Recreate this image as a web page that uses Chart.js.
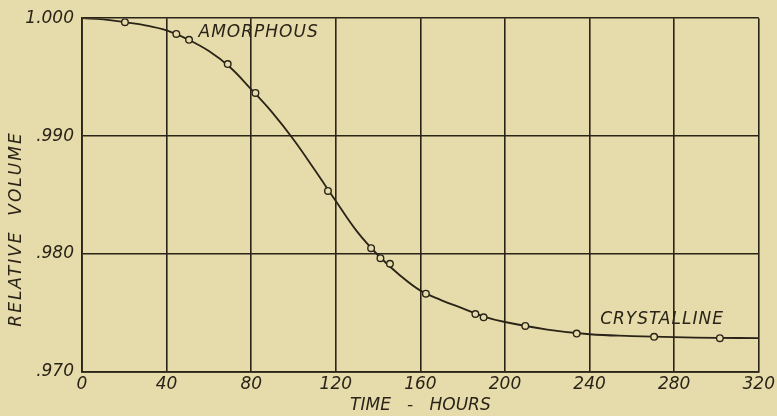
<!DOCTYPE html>
<html>
<head>
<meta charset="utf-8">
<script src="https://cdn.jsdelivr.net/npm/chart.js@4"></script>
<style>
  html, body { margin: 0; padding: 0; background: #e6dcab; }
  canvas { display: block; }
</style>
</head>
<body>
<canvas id="c" width="777" height="416"></canvas>
<script>
// Measured points (time in hours, relative volume)
const pointHours  = [20.3, 44.6, 50.6, 68.9, 82.0, 116.3, 136.7, 141.1, 145.6, 162.6, 186.0, 189.9, 209.6, 233.9, 270.5, 301.6];
const pointVolume = [0.99966, 0.99867, 0.99817, 0.99611, 0.99366, 0.98535, 0.98050, 0.97965, 0.97918, 0.97664, 0.97492, 0.97464, 0.97391, 0.97326, 0.97298, 0.97287];

// Smooth curve
const curveHours  = [0, 10, 20, 30, 40, 50, 60, 70, 80, 90, 100, 110, 120, 130, 140, 150, 160, 170, 180, 190, 200, 220, 240, 260, 280, 300, 320];
const curveVolume = [1.0000, 0.99990, 0.99966, 0.99940, 0.99896, 0.99820, 0.99721, 0.99584, 0.99397, 0.99200, 0.98972, 0.98715, 0.98450, 0.98192, 0.97990, 0.97825, 0.97690, 0.97608, 0.97540, 0.97470, 0.97424, 0.97360, 0.97320, 0.97305, 0.97295, 0.97290, 0.97287];

// Tick values
const xTicks = [0, 40, 80, 120, 160, 200, 240, 280, 320];
const yTicks = [0.970, 0.980, 0.990, 1.000];

// Text labels on the plot, anchored in data space
const notes = [
  { text: "AMORPHOUS",   x: 55.1,  y: 0.99882 },
  { text: "CRYSTALLINE", x: 245.0, y: 0.97447 }
];

const INK = "#2a2318";
const BG = "#e6dcab";
const FONT = "'DejaVu Sans', sans-serif";

const curveData = curveHours.map((h, i) => ({ x: h, y: curveVolume[i] }));
const pointData = pointHours.map((h, i) => ({ x: h, y: pointVolume[i] }));

const annotate = {
  id: "annotate",
  afterDraw(chart) {
    const ctx = chart.ctx;
    const xs = chart.scales.x, ys = chart.scales.y;
    ctx.save();
    ctx.fillStyle = INK;
    ctx.font = "italic 17px " + FONT;
    ctx.textBaseline = "middle";
    ctx.textAlign = "left";
    if ('letterSpacing' in ctx) ctx.letterSpacing = "1px";
    notes.forEach(n => {
      ctx.fillText(n.text, xs.getPixelForValue(n.x), ys.getPixelForValue(n.y));
    });
    // y axis title
    ctx.translate(17, 229);
    ctx.rotate(-Math.PI / 2);
    ctx.textAlign = "center";
    ctx.font = "italic 17px " + FONT;
    if ('letterSpacing' in ctx) ctx.letterSpacing = "2px";
    ctx.fillText("RELATIVE  VOLUME", 0, 0);
    ctx.restore();
  }
};

new Chart(document.getElementById("c"), {
  type: "scatter",
  data: {
    datasets: [
      {
        data: curveData,
        showLine: true,
        borderColor: INK,
        borderWidth: 1.8,
        pointRadius: 0,
        tension: 0.4,
        fill: false,
        order: 2
      },
      {
        data: pointData,
        showLine: false,
        pointRadius: 3.3,
        pointBorderWidth: 1.4,
        pointBorderColor: INK,
        pointBackgroundColor: BG,
        order: 1
      }
    ]
  },
  options: {
    responsive: false,
    animation: false,
    layout: { padding: { top: 17, right: 16, left: 0, bottom: 0 } },
    plugins: {
      legend: { display: false },
      tooltip: { enabled: false }
    },
    scales: {
      x: {
        type: "linear",
        min: 0, max: 320,
        afterBuildTicks: s => { s.ticks = xTicks.map(v => ({ value: v })); },
        afterFit: s => { s.height = 44; },
        grid: { color: INK, lineWidth: 1.6, drawTicks: false },
        border: { color: INK, width: 1.8 },
        ticks: {
          color: INK,
          padding: 2,
          maxRotation: 0,
          font: { family: FONT, size: 17, style: "italic" }
        },
        title: {
          display: true,
          text: "TIME   -   HOURS",
          color: INK,
          padding: { top: 0, bottom: 0 },
          font: { family: FONT, size: 17, style: "italic" }
        }
      },
      y: {
        type: "linear",
        min: 0.97, max: 1.0,
        afterBuildTicks: s => { s.ticks = yTicks.map(v => ({ value: v })); },
        afterFit: s => { s.width = 82; },
        grid: { color: INK, lineWidth: 1.6, drawTicks: false },
        border: { color: INK, width: 1.8 },
        ticks: {
          color: INK,
          padding: 8,
          font: { family: FONT, size: 17, style: "italic" },
          callback: v => {
            const m = Math.round(v * 1000);
            return m === 1000 ? "1.000" : "." + m;
          }
        }
      }
    }
  },
  plugins: [annotate]
});
</script>
</body>
</html>
